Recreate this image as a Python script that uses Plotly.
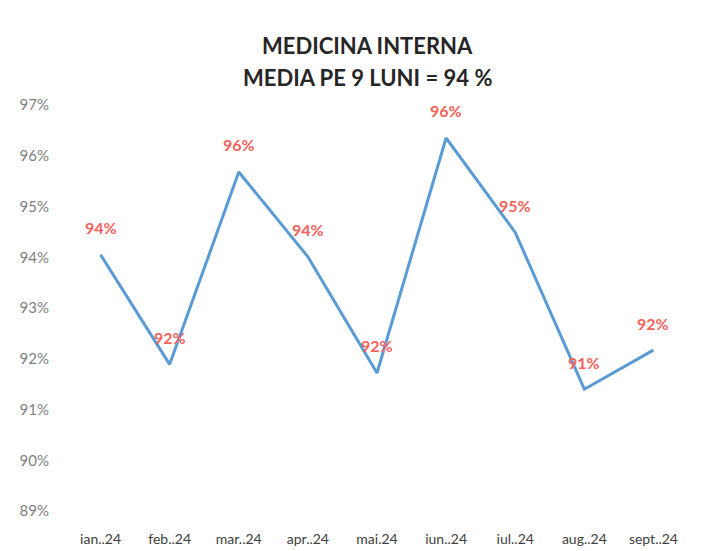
import plotly.graph_objects as go

# data
months = ["ian..24", "feb..24", "mar..24", "apr..24", "mai.24",
          "iun..24", "iul..24", "aug..24", "sept..24"]
values = [94.05, 91.89, 95.68, 94.01, 91.72, 96.35, 94.49, 91.40, 92.17]
labels = ["94%", "92%", "96%", "94%", "92%", "96%", "95%", "91%", "92%"]
y_ticks = [89, 90, 91, 92, 93, 94, 95, 96, 97]

fig = go.Figure()

fig.add_trace(go.Scatter(
    x=months,
    y=values,
    mode="lines",
    line=dict(color="#5b9bd5", width=3),
    hoverinfo="skip",
))

# data labels above each point (Excel style)
for m, v, t in zip(months, values, labels):
    fig.add_annotation(
        x=m, y=v, text="<b>" + t + "</b>",
        showarrow=False, yshift=27,
        font=dict(family="Lato", size=16, color="#f4625c"),
    )

# two-line title
fig.add_annotation(
    xref="paper", yref="paper", x=0.485, y=1.1474,
    xanchor="center", yanchor="middle",
    text="<b>MEDICINA INTERNA</b>", showarrow=False,
    font=dict(family="Lato", size=22, color="#262626"),
)
fig.add_annotation(
    xref="paper", yref="paper", x=0.485, y=1.0688,
    xanchor="center", yanchor="middle",
    text="<b>MEDIA PE 9 LUNI = 94 %</b>", showarrow=False,
    font=dict(family="Lato", size=22, color="#262626"),
)

fig.update_layout(
    width=704,
    height=551,
    paper_bgcolor="white",
    plot_bgcolor="white",
    showlegend=False,
    margin=dict(l=50, r=24, t=97, b=47),
)

fig.update_xaxes(
    range=[-0.5, 8.5],
    showgrid=False, zeroline=False, showline=False,
    ticks="", ticklabelstandoff=18,
    tickfont=dict(family="Lato", size=14, color="#404040"),
)

fig.update_yaxes(
    range=[89, 97],
    tickvals=y_ticks,
    ticktext=[f"{v}%" for v in y_ticks],
    showgrid=False, zeroline=False, showline=False,
    ticks="", ticklabelstandoff=16,
    tickfont=dict(family="Lato", size=15, color="#7f7f7f"),
)

fig.write_html("out.html")
